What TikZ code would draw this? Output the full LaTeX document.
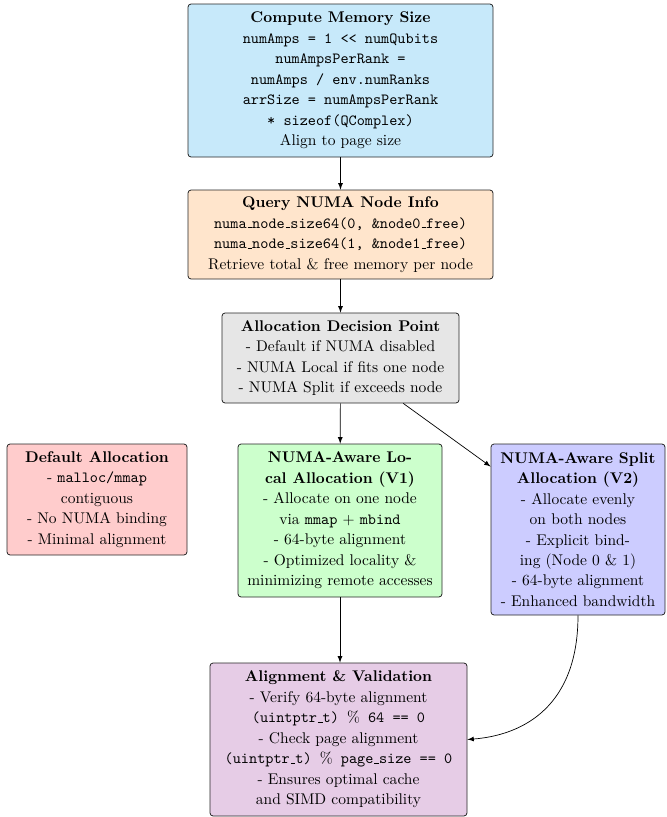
\documentclass[tikz,border=0pt]{standalone}
\usetikzlibrary{arrows}
\definecolor{cbox}{RGB}{199,233,250}
\definecolor{obox}{RGB}{255,229,204}
\definecolor{gbox}{RGB}{230,230,230}
\definecolor{rbox}{RGB}{255,204,204}
\definecolor{lbox}{RGB}{204,255,204}
\definecolor{bbox}{RGB}{204,204,255}
\definecolor{vbox}{RGB}{230,204,230}
\newcommand\myus{\leavevmode\kern.06em\vbox{\hrule width.3em}}
\newcommand\mypct{{\rmfamily\%}}
\begin{document}
\begin{tikzpicture}[x=0.645pt,y=-0.645pt,
  box/.style={draw=black!85, rounded corners=2pt, align=center, inner sep=2pt,
    font=\fontsize{10}{13.2}\selectfont, line width=0.5pt},
  conn/.style={-latex, line width=0.45pt}]
\useasboundingbox (0,0) rectangle (666,817);
\node[box, fill=cbox, minimum width=305*0.645pt, minimum height=153*0.645pt] (mem) at (340.5,80.5)
  {\textbf{Compute Memory Size}\\ \texttt{numAmps = 1 << numQubits}\\ \texttt{numAmpsPerRank =}\\
   \texttt{numAmps / env.numRanks}\\ \texttt{arrSize = numAmpsPerRank}\\ \texttt{* sizeof(QComplex)}\\ Align to page size};
\node[box, fill=obox, minimum width=305*0.645pt, minimum height=89*0.645pt] (numa) at (340.5,234.5)
  {\textbf{Query NUMA Node Info}\\ \texttt{numa\myus node\myus size64(0, \&node0\myus free)}\\
   \texttt{numa\myus node\myus size64(1, \&node1\myus free)}\\ Retrieve total \& free memory per node};
\node[box, fill=gbox, minimum width=237*0.645pt, minimum height=90*0.645pt] (dec) at (340.5,358)
  {\textbf{Allocation Decision Point}\\ - Default if NUMA disabled\\ - NUMA Local if fits one node\\ - NUMA Split if exceeds node};
\node[box, fill=rbox, minimum width=180*0.645pt, minimum height=111*0.645pt] (def) at (97,499.5)
  {\textbf{Default Allocation}\\ - \texttt{malloc/mmap}\\ contiguous\\ - No NUMA binding\\ - Minimal alignment};
\node[box, fill=lbox, minimum width=204*0.645pt, minimum height=153*0.645pt] (loc) at (340,520.5)
  {\textbf{NUMA-Aware Lo-}\\ \textbf{cal Allocation (V1)}\\ - Allocate on one node\\ via \texttt{mmap} $+$ \texttt{mbind}\\
   - 64-byte alignment\\ - Optimized locality \&\\ minimizing remote accesses};
\node[box, fill=bbox, minimum width=174*0.645pt, minimum height=171*0.645pt] (spl) at (578,529.5)
  {\textbf{NUMA-Aware Split}\\ \textbf{Allocation (V2)}\\ - Allocate evenly\\ on both nodes\\ - Explicit bind-\\
   ing (Node 0 \& 1)\\ - 64-byte alignment\\ - Enhanced bandwidth};
\node[box, fill=vbox, minimum width=257*0.645pt, minimum height=153*0.645pt] (ali) at (338.5,739.5)
  {\textbf{Alignment \& Validation}\\ - Verify 64-byte alignment\\ \texttt{(uintptr\myus t) \mypct\ 64 == 0}\\
   - Check page alignment\\ \texttt{(uintptr\myus t) \mypct\ page\myus size == 0}\\ - Ensures optimal cache\\ and SIMD compatibility};
\draw[conn] (mem) -- (numa);
\draw[conn] (numa) -- (dec);
\draw[conn] (dec) -- (loc);
\draw[conn] (dec) -- (spl);
\draw[conn] (loc.south) -- (loc.south |- ali.north);
\draw[conn] (spl.south) .. controls (578,705) and (525,735) .. (ali.east);
\end{tikzpicture}
\end{document}
